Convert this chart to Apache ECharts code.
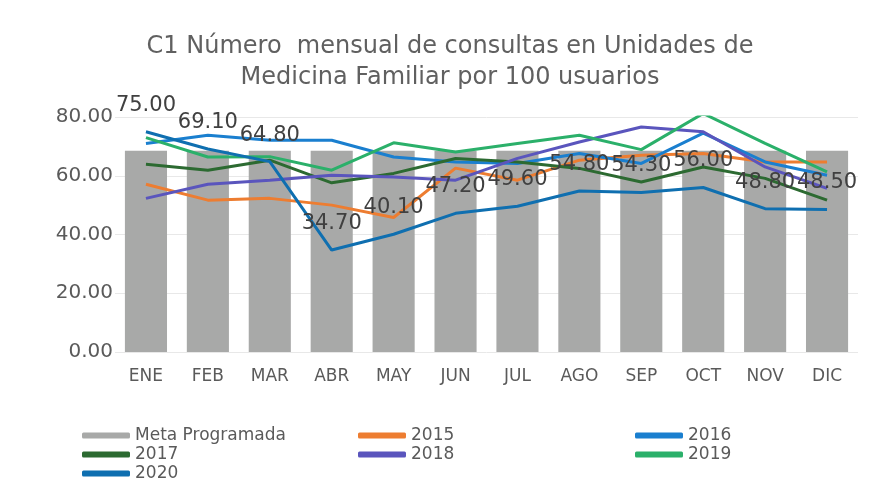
<!DOCTYPE html>
<html>
<head>
<meta charset="utf-8">
<script src="https://cdn.jsdelivr.net/npm/echarts@6/dist/echarts.min.js"></script>
<style>
  html, body { margin: 0; padding: 0; background: #fff; }
  #chart { width: 871px; height: 492px; }
</style>
</head>
<body>
<div id="chart"></div>
<script>
const months = ['ENE', 'FEB', 'MAR', 'ABR', 'MAY', 'JUN', 'JUL', 'AGO', 'SEP', 'OCT', 'NOV', 'DIC']
const meta = [68.5, 68.5, 68.5, 68.5, 68.5, 68.5, 68.5, 68.5, 68.5, 68.5, 68.5, 68.5]
const y2015 = [57.1, 51.7, 52.3, 50.0, 45.8, 62.6, 58.5, 65.3, 67.0, 67.6, 64.7, 64.7]
const y2016 = [71.0, 73.8, 72.1, 72.1, 66.4, 64.7, 64.2, 67.6, 64.2, 74.5, 64.7, 60.2]
const y2017 = [63.9, 61.9, 65.3, 57.6, 60.8, 65.9, 64.7, 62.5, 57.9, 63.0, 59.1, 51.7]
const y2018 = [52.3, 57.1, 58.5, 60.2, 59.6, 58.5, 65.9, 71.5, 76.6, 75.0, 63.0, 55.7]
const y2019 = [73.0, 66.4, 66.5, 61.9, 71.2, 68.1, 71.0, 73.8, 68.9, 81.2, 71.0, 61.3]
const y2020 = [75.0, 69.1, 64.8, 34.7, 40.1, 47.2, 49.6, 54.8, 54.3, 56.0, 48.8, 48.5]
const yTicks = [0, 20, 40, 60, 80]

const txt = '#5a5a5a'
const font = 'DejaVu Sans'

const chart = echarts.init(document.getElementById('chart'))

const lineSeries = (name, data, color, extra) => Object.assign({
  name: name,
  type: 'line',
  data: data,
  symbol: 'none',
  lineStyle: { width: 3, color: color },
  itemStyle: { color: color }
}, extra || {})

const legendBase = {
  orient: 'vertical',
  itemWidth: 48,
  itemHeight: 6,
  itemGap: 2,
  icon: 'roundRect',
  textStyle: { color: txt, fontSize: 17, fontFamily: font }
}

const option = {
  animation: false,
  title: {
    text: 'C1 Número  mensual de consultas en Unidades de\nMedicina Familiar por 100 usuarios',
    left: 445,
    top: 26,
    textAlign: 'center',
    textStyle: {
      color: '#606060',
      fontSize: 24,
      fontWeight: 'normal',
      fontFamily: font,
      lineHeight: 31
    }
  },
  legend: [
    Object.assign({}, legendBase, { left: 77, top: 422, data: ['Meta Programada', '2017', '2020'] }),
    Object.assign({}, legendBase, { left: 353, top: 422, data: ['2015', '2018'] }),
    Object.assign({}, legendBase, { left: 630, top: 422, data: ['2016', '2019'] })
  ],
  grid: { left: 115, right: 13, top: 117, bottom: 140 },
  xAxis: {
    type: 'category',
    data: months,
    axisLine: { show: false },
    axisTick: { show: false },
    axisLabel: { color: txt, fontSize: 17, fontFamily: font, margin: 16 }
  },
  yAxis: {
    type: 'value',
    min: yTicks[0],
    max: yTicks[yTicks.length - 1],
    interval: 20,
    axisLine: { show: false },
    axisTick: { show: false },
    splitLine: { lineStyle: { color: '#e8e8e8' } },
    axisLabel: {
      color: txt,
      fontSize: 20,
      fontFamily: font,
      margin: 2,
      formatter: v => v.toFixed(2)
    }
  },
  series: [
    {
      name: 'Meta Programada',
      type: 'bar',
      data: meta,
      barCategoryGap: '32%',
      itemStyle: { color: '#a8a9a8' }
    },
    lineSeries('2015', y2015, '#ed7d31'),
    lineSeries('2016', y2016, '#1a7fcf'),
    lineSeries('2017', y2017, '#2c6a31'),
    lineSeries('2018', y2018, '#5a55bd'),
    lineSeries('2019', y2019, '#2bb06a'),
    lineSeries('2020', y2020, '#0f6fb0', {
      z: 5,
      symbol: 'circle',
      symbolSize: 0,
      showSymbol: true,
      showAllSymbol: true,
      label: {
        show: true,
        position: 'top',
        distance: 16,
        color: '#404040',
        fontSize: 21,
        fontFamily: font,
        formatter: p => p.value.toFixed(2)
      },
      labelLayout: { hideOverlap: false }
    })
  ]
}

chart.setOption(option)
window.addEventListener('resize', () => chart.resize())
</script>
</body>
</html>
